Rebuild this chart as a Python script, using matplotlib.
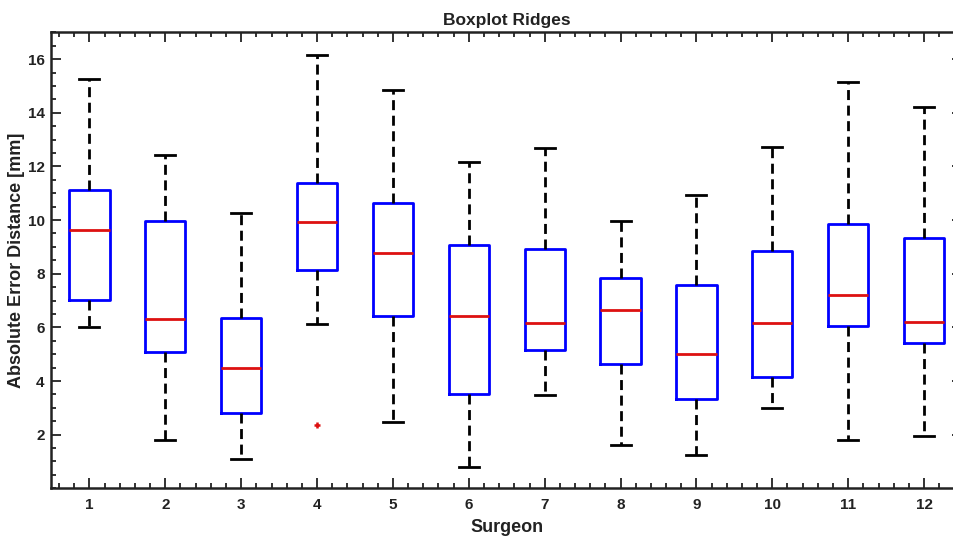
import matplotlib
matplotlib.use("Agg")
import matplotlib.pyplot as plt
from matplotlib.ticker import MultipleLocator

plt.rcParams['font.family'] = ['Liberation Sans', 'DejaVu Sans']
plt.rcParams['font.weight'] = 'bold'

# values
surgeons = [1, 2, 3, 4, 5, 6, 7, 8, 9, 10, 11, 12]
whisker_lo = [6.0, 1.81, 1.10, 6.14, 2.47, 0.80, 3.47, 1.62, 1.26, 2.99, 1.81, 1.94]
q1 = [7.03, 5.09, 2.80, 8.14, 6.44, 3.52, 5.15, 4.63, 3.32, 4.15, 6.04, 5.43]
medians = [9.62, 6.32, 4.47, 9.92, 8.76, 6.42, 6.15, 6.63, 5.0, 6.17, 7.19, 6.21]
q3 = [11.11, 9.96, 6.35, 11.38, 10.64, 9.06, 8.91, 7.84, 7.59, 8.83, 9.86, 9.34]
whisker_hi = [15.25, 12.43, 10.27, 16.14, 14.84, 12.15, 12.68, 9.96, 10.93, 12.73, 15.15, 14.23]
outliers = [[], [], [], [2.37], [], [], [], [], [], [], [], []]

stats = []
for i in range(len(surgeons)):
    stats.append(dict(med=medians[i], q1=q1[i], q3=q3[i],
                      whislo=whisker_lo[i], whishi=whisker_hi[i],
                      fliers=outliers[i], label=str(surgeons[i])))

fig = plt.figure(figsize=(9.54, 5.36), dpi=100)
W, H = 954, 536
# right spine sits just past the image edge, like the cropped original
ax = fig.add_axes([51.5 / W, (H - 488.3) / H, (962 - 51.5) / W, (488.3 - 32.3) / H])

ax.bxp(stats, positions=surgeons, widths=0.53, showfliers=True,
       boxprops=dict(color='#0000ff', linewidth=2.0),
       medianprops=dict(color='#dd1111', linewidth=2.0),
       whiskerprops=dict(color='black', linewidth=2.0, linestyle=(0, (3.6, 2.0))),
       capprops=dict(color='black', linewidth=2.0),
       flierprops=dict(marker='+', markeredgecolor='#dd1111', markersize=5,
                       markeredgewidth=1.8))

ax.set_xlim(0.5, 12.5)
ax.set_ylim(0, 17)
ax.yaxis.set_major_locator(MultipleLocator(2))
ax.yaxis.set_minor_locator(MultipleLocator(0.5))
ax.xaxis.set_minor_locator(MultipleLocator(0.2))
ax.set_yticks([2, 4, 6, 8, 10, 12, 14, 16])

ax.tick_params(which='both', direction='in', top=True, right=True, width=1.3,
               labelsize=11, color='#222222')
ax.tick_params(which='major', length=7.2)
ax.tick_params(which='minor', length=3.6)
ax.tick_params(axis='x', pad=7)
ax.tick_params(axis='y', pad=5)
for s in ax.spines.values():
    s.set_linewidth(1.8)
    s.set_color('#222222')
for lbl in ax.get_xticklabels() + ax.get_yticklabels():
    lbl.set_fontweight('bold')
    lbl.set_color('#222222')

ax.set_title('Boxplot Ridges', fontsize=12.5, fontweight='bold', color='#222222', pad=5)
ax.set_xlabel('Surgeon', fontsize=13, fontweight='bold', color='#222222')
ax.set_ylabel('Absolute Error Distance [mm]', fontsize=13, fontweight='bold', color='#222222')
ax.xaxis.set_label_coords(0.5, -0.068)
ax.yaxis.set_label_coords(-0.029, 0.5)

fig.savefig('out.png', dpi=100)
